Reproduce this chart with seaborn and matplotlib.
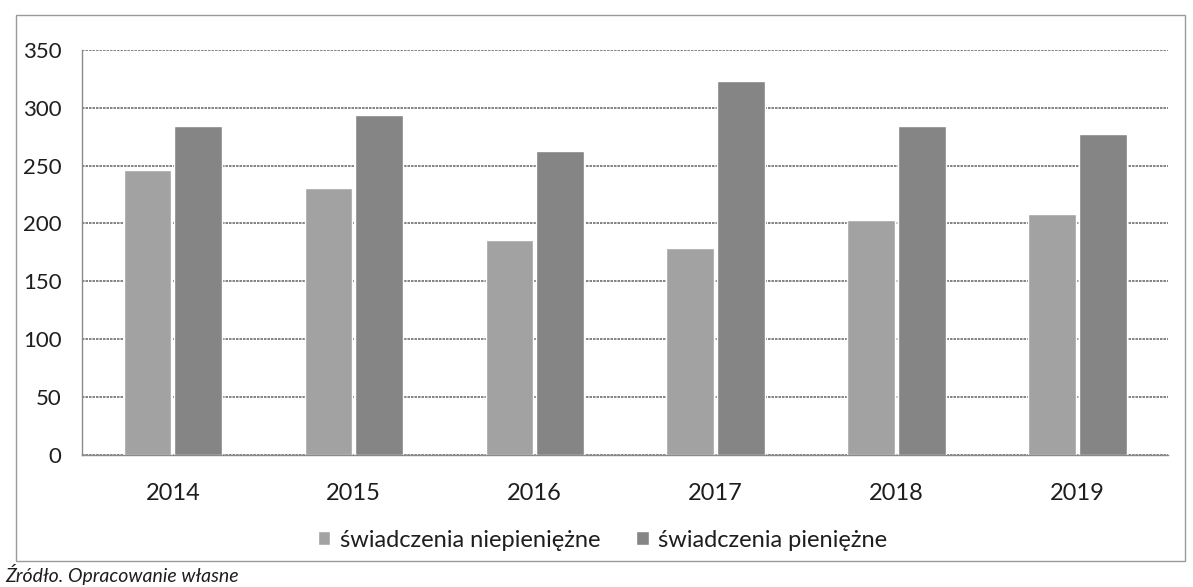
import numpy as np
import pandas as pd
import matplotlib
matplotlib.use("Agg")
import matplotlib.pyplot as plt
import seaborn as sns
from matplotlib.patches import Rectangle

# -----------------------------
# Data
# -----------------------------
years = ["2014", "2015", "2016", "2017", "2018", "2019"]
niepieniezne = [246, 231, 186, 179, 203, 208]
pieniezne = [284, 294, 263, 323, 284, 277]
series_names = ["świadczenia niepieniężne", "świadczenia pieniężne"]
series_colors = ["#a2a2a2", "#858585"]
y_ticks = [0, 50, 100, 150, 200, 250, 300, 350]

df = pd.DataFrame({
    "rok": years * 2,
    "wartosc": niepieniezne + pieniezne,
    "seria": [series_names[0]] * len(years) + [series_names[1]] * len(years),
})

# -----------------------------
# Plot
# -----------------------------
sns.set_style("white")
plt.rcParams["font.family"] = ["Lato", "DejaVu Sans"]

fig = plt.figure(figsize=(11.93, 5.87), dpi=100)
ax = fig.add_axes([0.069, 0.225, 0.910, 0.69])

sns.barplot(
    data=df, x="rok", y="wartosc", hue="seria",
    palette=series_colors, width=0.56, gap=0.06,
    saturation=1, ax=ax, legend=True,
)

ax.set_ylim(0, 350)
ax.set_xlim(-0.5, len(years) - 0.5)
ax.set_yticks(y_ticks)
ax.set_xlabel("")
ax.set_ylabel("")
ax.set_axisbelow(True)
ax.yaxis.grid(True, color="#6e6e6e", linewidth=1.2, linestyle=(0, (1.5, 0.6)))
ax.xaxis.grid(False)

for side in ["top", "right"]:
    ax.spines[side].set_visible(False)
for side in ["left", "bottom"]:
    ax.spines[side].set_color("#8a8a8a")
    ax.spines[side].set_linewidth(1.0)

# Excel-style ticks: y stubs on the left, x ticks between categories
ax.tick_params(axis="y", length=6, color="#8a8a8a", labelsize=16, pad=9, colors="#1e1e1e")
ax.tick_params(axis="x", which="major", length=0, labelsize=17, pad=20, colors="#1e1e1e")
ax.set_xticks(np.arange(-0.5, len(years), 1), minor=True)
ax.tick_params(axis="x", which="minor", length=6, color="#8a8a8a")

# legend under the chart
handles, labels = ax.get_legend_handles_labels()
ax.legend_.remove()
fig.legend(
    handles, labels, loc="center", bbox_to_anchor=(0.505, 0.08),
    ncol=2, frameon=False, fontsize=17, handlelength=0.55, handleheight=0.55,
    handletextpad=0.4, columnspacing=1.5, labelcolor="#1e1e1e",
)

# outer chart border and the source note below it
fig.patches.append(Rectangle((0.013, 0.045), 0.98, 0.93, transform=fig.transFigure,
                             fill=False, edgecolor="#9a9a9a", linewidth=1.0))
fig.text(0.004, 0.003, "Źródło. Opracowanie własne", fontsize=14, style="italic",
         color="#1e1e1e", ha="left", va="bottom")

fig.savefig("out.png", dpi=100)
